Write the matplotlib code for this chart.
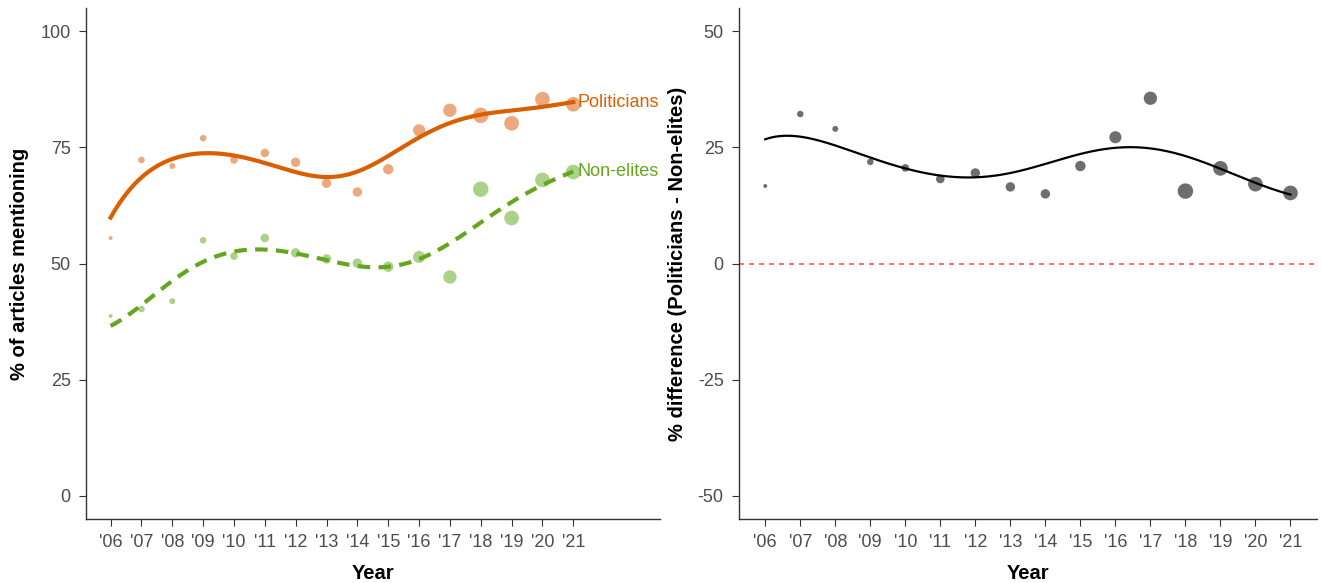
import numpy as np
import matplotlib
matplotlib.use('Agg')
import matplotlib.pyplot as plt

plt.rcParams['font.family'] = ['Liberation Sans', 'DejaVu Sans']
plt.rcParams['axes.unicode_minus'] = False

years = np.arange(2006, 2022)
year_labels = ["'%02d" % (y % 100) for y in years]

politicians = [55.5, 72.3, 71.0, 77.0, 72.3, 73.8, 71.8, 67.3, 65.4, 70.3, 78.7, 83.0, 81.9, 80.2, 85.4, 84.3]
non_elites = [38.7, 40.2, 41.9, 55.0, 51.6, 55.5, 52.3, 51.0, 50.1, 49.3, 51.4, 47.1, 66.0, 59.8, 68.0, 69.7]
difference = [16.7, 32.2, 29.0, 21.9, 20.6, 18.2, 19.5, 16.5, 15.0, 21.0, 27.2, 35.6, 15.6, 20.5, 17.1, 15.2]
# relative number of articles per year (drives point size and smoothing weight)
n_articles = [20, 55, 45, 55, 75, 95, 115, 115, 115, 140, 190, 230, 310, 280, 280, 280]

orange = '#D95F02'
green = '#66A61E'


def smooth(x, y, wts, bw=2.0):
    # weighted local quadratic regression with gaussian kernel
    x = np.asarray(x, float)
    y = np.asarray(y, float)
    wts = np.asarray(wts, float)
    grid = np.linspace(x.min(), x.max(), 300)
    out = []
    for g in grid:
        w = wts * np.exp(-0.5 * ((x - g) / bw) ** 2)
        X = np.vstack([np.ones_like(x), x - g, (x - g) ** 2]).T
        W = np.diag(w)
        beta = np.linalg.solve(X.T @ W @ X, X.T @ W @ y)
        out.append(beta[0])
    return grid, np.array(out)


def style(ax):
    for s in ['top', 'right']:
        ax.spines[s].set_visible(False)
    for s in ['left', 'bottom']:
        ax.spines[s].set_color('#333333')
        ax.spines[s].set_linewidth(1.0)
    ax.tick_params(colors='#333333', labelcolor='#4d4d4d', labelsize=13, length=5, pad=6)
    ax.set_xticks(years)
    ax.set_xticklabels(year_labels)
    ax.set_xlabel('Year', fontsize=14.5, fontweight='bold', labelpad=9)


fig = plt.figure(figsize=(13.22, 5.83), dpi=100)
ax1 = fig.add_axes([0.065, 0.11, 0.434, 0.876])
ax2 = fig.add_axes([0.559, 0.11, 0.437, 0.876])

sizes = np.array(n_articles) * 0.4

# left panel
ax1.scatter(years, politicians, s=sizes, color='#E99A66', alpha=0.85, edgecolors='none', zorder=2)
ax1.scatter(years, non_elites, s=sizes, color='#9CCB74', alpha=0.85, edgecolors='none', zorder=2)
gx, gp = smooth(years, politicians, n_articles)
ax1.plot(gx, gp, color=orange, lw=3, zorder=3)
gx, gn = smooth(years, non_elites, n_articles)
ax1.plot(gx, gn, color=green, lw=3, ls=(0, (3, 2)), zorder=3)
ax1.text(years[-1] + 0.12, gp[-1], 'Politicians', color=orange, fontsize=13, va='center', ha='left')
ax1.text(years[-1] + 0.12, gn[-1], 'Non-elites', color=green, fontsize=13, va='center', ha='left')
ax1.set_xlim(2005.2, 2023.8)
ax1.set_ylim(-5, 105)
ax1.set_yticks([0, 25, 50, 75, 100])
ax1.set_ylabel('% of articles mentioning', fontsize=14.5, fontweight='bold', labelpad=8)
style(ax1)

# right panel
ax2.axhline(0, color='#FF5555', ls=(0, (3, 3)), lw=1.2, zorder=1)
ax2.scatter(years, difference, s=sizes, color='#555555', alpha=0.85, edgecolors='none', zorder=2)
gx, gd = smooth(years, difference, n_articles, bw=2.6)
ax2.plot(gx, gd, color='black', lw=1.6, zorder=3)
ax2.set_xlim(2005.25, 2021.75)
ax2.set_ylim(-55, 55)
ax2.set_yticks([-50, -25, 0, 25, 50])
ax2.set_ylabel('% difference (Politicians - Non-elites)', fontsize=14.5, fontweight='bold', labelpad=8)
style(ax2)

fig.savefig('out.png', dpi=100)
